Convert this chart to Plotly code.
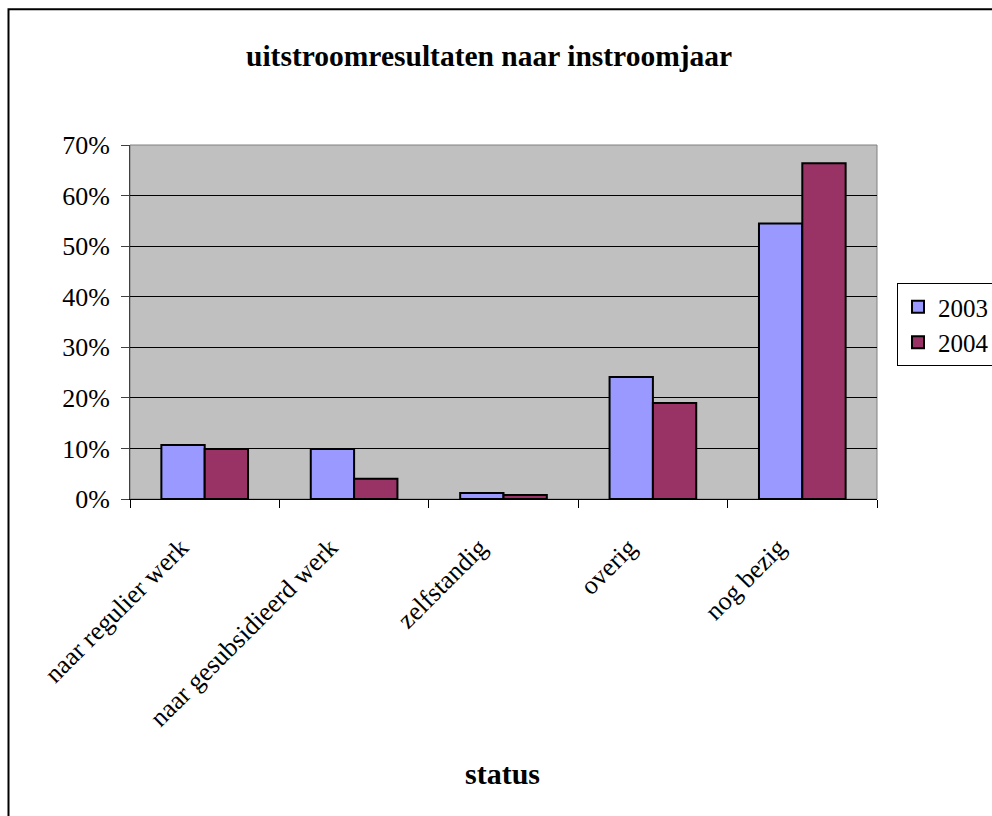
import plotly.graph_objects as go

categories = ["naar regulier werk", "naar gesubsidieerd werk", "zelfstandig", "overig", "nog bezig"]
values_2003 = [0.107, 0.099, 0.012, 0.241, 0.545]
values_2004 = [0.099, 0.040, 0.008, 0.190, 0.664]
series_names = ["2003", "2004"]
y_ticks = [0, 0.1, 0.2, 0.3, 0.4, 0.5, 0.6, 0.7]
y_tick_labels = ["0%", "10%", "20%", "30%", "40%", "50%", "60%", "70%"]

FONT = "Liberation Serif"

W, H = 992, 816
L, T, PW, PH = 130, 145, 747, 354
R, B = W - L - PW, H - T - PH


def px_x(x):
    return (x - L) / PW


def px_y(y):
    return (T + PH - y) / PH


fig = go.Figure()
fig.add_trace(go.Bar(x=categories, y=values_2003, name=series_names[0],
                     marker=dict(color="#9999FF", line=dict(color="black", width=2))))
fig.add_trace(go.Bar(x=categories, y=values_2004, name=series_names[1],
                     marker=dict(color="#993366", line=dict(color="black", width=2))))

fig.update_layout(
    width=W, height=H,
    margin=dict(l=L, r=R, t=T, b=B, autoexpand=False),
    paper_bgcolor="white",
    plot_bgcolor="#C0C0C0",
    barmode="group",
    bargap=0.42,
    bargroupgap=0,
    font=dict(family=FONT, color="black"),
    legend=dict(x=px_x(897), xanchor="left", y=px_y(283), yanchor="top",
                bordercolor="black", borderwidth=1, bgcolor="white",
                font=dict(family=FONT, size=25, color="black"),
                tracegroupgap=13),
    showlegend=True,
)

fig.update_yaxes(range=[0, 0.7], tickvals=y_ticks, ticktext=y_tick_labels,
                 showgrid=True, gridcolor="black", gridwidth=1,
                 showline=True, linecolor="#404040", linewidth=1,
                 ticks="outside", ticklen=8, tickcolor="#404040",
                 tickfont=dict(family=FONT, size=26, color="black"),
                 ticklabelstandoff=6,
                 zeroline=False)
fig.update_xaxes(tickangle=-45, tickson="boundaries",
                 ticks="outside", ticklen=8, tickcolor="black",
                 showline=True, linecolor="black", linewidth=1,
                 tickfont=dict(family=FONT, size=26, color="black"),
                 ticklabelstandoff=22, ticklabelshift=-24,
                 showgrid=False)

# plot area border (top/right grey)
fig.add_shape(type="rect", xref="paper", yref="paper", x0=0, y0=0, x1=1, y1=1,
              line=dict(color="#808080", width=1), layer="below")
# outer chart border
fig.add_shape(type="rect", xref="paper", yref="paper",
              x0=px_x(8.5), y0=px_y(H + 10),
              x1=px_x(W + 10), y1=px_y(9.3),
              line=dict(color="black", width=2))

fig.add_annotation(text="<b>uitstroomresultaten naar instroomjaar</b>",
                   xref="paper", yref="paper",
                   x=px_x(489), y=px_y(56),
                   xanchor="center", yanchor="middle", showarrow=False,
                   font=dict(family=FONT, size=29.5, color="black"))

fig.add_annotation(text="<b>status</b>", xref="paper", yref="paper",
                   x=px_x(502), y=px_y(773),
                   xanchor="center", yanchor="middle", showarrow=False,
                   font=dict(family=FONT, size=30, color="black"))

fig.write_html(
    "out.html",
    config={"displayModeBar": False},
    post_script="document.body.style.margin='0';document.body.style.overflow='hidden';"
                "document.documentElement.style.overflow='hidden';",
)
